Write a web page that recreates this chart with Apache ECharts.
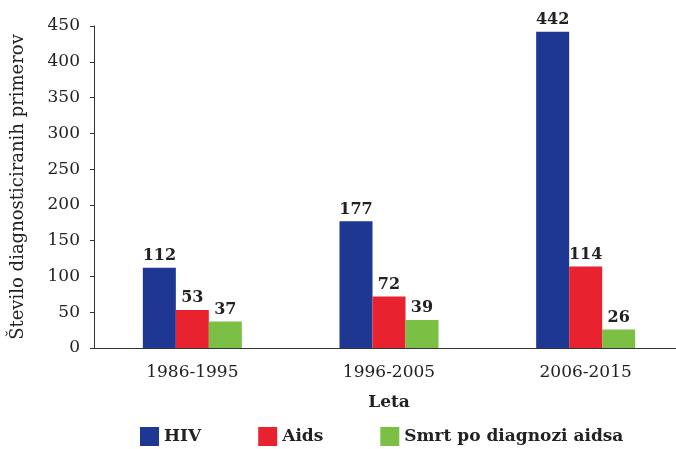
<!DOCTYPE html>
<html>
<head>
<meta charset="utf-8">
<script src="https://cdn.jsdelivr.net/npm/echarts@6/dist/echarts.min.js"></script>
<style>
  html, body { margin: 0; padding: 0; background: #ffffff; overflow: hidden; }
  #chart { width: 690px; height: 449px; }
</style>
</head>
<body>
<div id="chart"></div>
<script>
const categories = ['1986-1995', '1996-2005', '2006-2015']
const seriesNames = ['HIV', 'Aids', 'Smrt po diagnozi aidsa']
const hivValues = [112, 177, 442]
const aidsValues = [53, 72, 114]
const deathValues = [37, 39, 26]
const colorList = ['#1d3793', '#e8232f', '#7cbf45']

const font = '"DejaVu Serif", "Liberation Serif", serif'

const chart = echarts.init(document.getElementById('chart'))

const makeSeries = (name, data, index) => ({
  name: name,
  type: 'bar',
  barWidth: 33,
  barGap: '0%',
  itemStyle: { color: colorList[index] },
  label: {
    show: true,
    position: 'top',
    distance: 4,
    color: '#222222',
    fontFamily: font,
    fontSize: 16,
    fontWeight: 'bold'
  },
  data: data
})

chart.setOption({
  backgroundColor: '#ffffff',
  animation: false,
  grid: {
    left: 94,
    width: 590,
    top: 26,
    bottom: 101
  },
  legend: {
    left: 140,
    top: 427,
    padding: 0,
    icon: 'rect',
    itemWidth: 19,
    itemHeight: 19,
    itemGap: 57,
    textStyle: {
      fontFamily: font,
      fontSize: 17,
      fontWeight: 'bold',
      color: '#222222'
    },
    data: seriesNames
  },
  xAxis: {
    type: 'category',
    data: categories,
    name: 'Leta',
    nameLocation: 'middle',
    nameGap: 46,
    nameTextStyle: {
      fontFamily: font,
      fontSize: 17,
      fontWeight: 'bold',
      color: '#222222'
    },
    axisLine: { lineStyle: { color: '#333333', width: 1 } },
    axisTick: { show: false },
    axisLabel: {
      margin: 16,
      fontFamily: font,
      fontSize: 17,
      color: '#222222'
    }
  },
  yAxis: {
    type: 'value',
    min: 0,
    max: 450,
    interval: 50,
    name: 'Število diagnosticiranih primerov',
    nameLocation: 'middle',
    nameGap: 67,
    nameRotate: 90,
    nameTextStyle: {
      fontFamily: font,
      fontSize: 18,
      color: '#222222'
    },
    axisLine: { show: true, lineStyle: { color: '#333333', width: 1 } },
    axisTick: { show: true, length: 4, lineStyle: { color: '#333333' } },
    axisLabel: {
      margin: 14,
      fontFamily: font,
      fontSize: 17,
      color: '#222222'
    },
    splitLine: { show: false }
  },
  series: [
    makeSeries(seriesNames[0], hivValues, 0),
    makeSeries(seriesNames[1], aidsValues, 1),
    makeSeries(seriesNames[2], deathValues, 2)
  ]
})
</script>
</body>
</html>
